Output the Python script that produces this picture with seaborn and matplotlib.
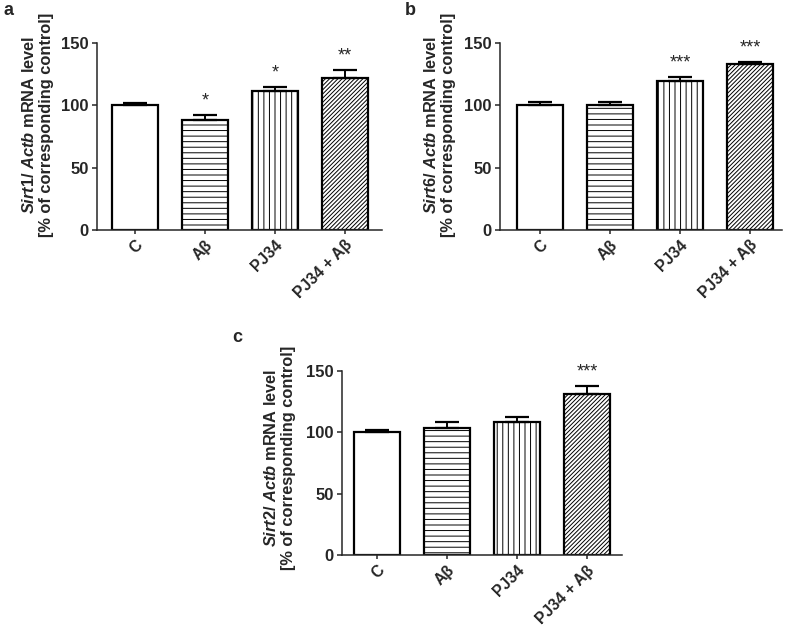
import numpy as np
import pandas as pd
import matplotlib
matplotlib.use("Agg")
import matplotlib.pyplot as plt
import seaborn as sns

# values (mean, upper error)
categories = ["C", "Aβ", "PJ34", "PJ34 + Aβ"]
sirt1_mean = [100, 88.5, 111.5, 122]
sirt1_err = [1.5, 4, 3.5, 6.7]
sirt1_stars = ["", "*", "*", "**"]
sirt6_mean = [100, 100, 119.5, 133]
sirt6_err = [2.5, 3, 3.4, 1.6]
sirt6_stars = ["", "", "***", "***"]
sirt2_mean = [100, 103.8, 108.3, 131.5]
sirt2_err = [1.8, 4.8, 4, 6.4]
sirt2_stars = ["", "", "", "***"]
hatches = ["", "---", "|||", "////////"]

sns.set_style("ticks")
plt.rcParams["font.family"] = ["Liberation Sans", "DejaVu Sans"]
plt.rcParams["font.weight"] = "bold"
plt.rcParams["mathtext.fontset"] = "custom"
plt.rcParams["mathtext.it"] = "Liberation Sans:italic:bold"
plt.rcParams["mathtext.rm"] = "Liberation Sans:bold"
plt.rcParams["mathtext.bf"] = "Liberation Sans:bold"
plt.rcParams["hatch.linewidth"] = 0.7
plt.rcParams["hatch.color"] = "#333333"

fig = plt.figure(figsize=(7.87, 6.29), dpi=100)


def panel(rect, xlim, mean, err, stars, gene, letter, letter_xy, label_xy):
    ax = fig.add_axes(rect)
    df = pd.DataFrame({"group": categories, "value": mean})
    sns.barplot(data=df, x="group", y="value", ax=ax, color="white",
                edgecolor="black", linewidth=1.6, width=0.66, errorbar=None,
                saturation=1)
    for patch, h in zip(ax.patches, hatches):
        patch.set_hatch(h)
        patch.set_facecolor("white")
        patch.set_edgecolor("black")
    x = np.arange(len(categories))
    ax.errorbar(x, mean, yerr=[np.zeros(len(mean)), err], fmt="none",
                ecolor="black", elinewidth=1.4, capsize=8.5, capthick=1.6,
                zorder=3)
    for xi, m, e, s in zip(x, mean, err, stars):
        if s:
            ax.annotate(s, (xi, m + e), xytext=(0, 4), textcoords="offset points",
                        ha="center", va="bottom", fontsize=13,
                        fontweight="normal")
    ax.set_xlim(*xlim)
    ax.set_ylim(0, 150)
    ax.set_yticks([0, 50, 100, 150])
    ax.set_xlabel("")
    ax.set_ylabel("")
    sns.despine(ax=ax)
    for side in ["left", "bottom"]:
        ax.spines[side].set_linewidth(1.1)
    ax.tick_params(axis="y", length=3.8, width=1.1, labelsize=12, pad=2)
    ax.tick_params(axis="x", length=3, width=1.1, labelsize=11.3, pad=2.5)
    plt.setp(ax.get_xticklabels(), rotation=45, ha="right",
             rotation_mode="anchor", fontweight="bold")
    plt.setp(ax.get_yticklabels(), fontweight="bold")
    fig.text(label_xy[0], label_xy[1],
             r"$\mathit{%s}$/ $\mathit{Actb}$ mRNA level" % gene
             + "\n[% of corresponding control]",
             rotation=90, ha="center", va="center", multialignment="center",
             fontsize=11.8, fontweight="bold", linespacing=1.15)
    fig.text(letter_xy[0], letter_xy[1], letter, ha="center", va="center",
             fontsize=13, fontweight="bold")
    return ax


panel([0.1233, 0.6343, 0.3621, 0.2973], (-0.543, 3.53), sirt1_mean, sirt1_err,
      sirt1_stars, "Sirt1", "a", (0.011, 0.984), (0.048, 0.801))
panel([0.6353, 0.6343, 0.3583, 0.2973], (-0.571, 3.457), sirt6_mean, sirt6_err,
      sirt6_stars, "Sirt6", "b", (0.521, 0.984), (0.558, 0.801))
panel([0.4346, 0.1175, 0.3558, 0.2927], (-0.5, 3.5), sirt2_mean, sirt2_err,
      sirt2_stars, "Sirt2", "c", (0.302, 0.464), (0.355, 0.272))

fig.savefig("out.png", dpi=100)
